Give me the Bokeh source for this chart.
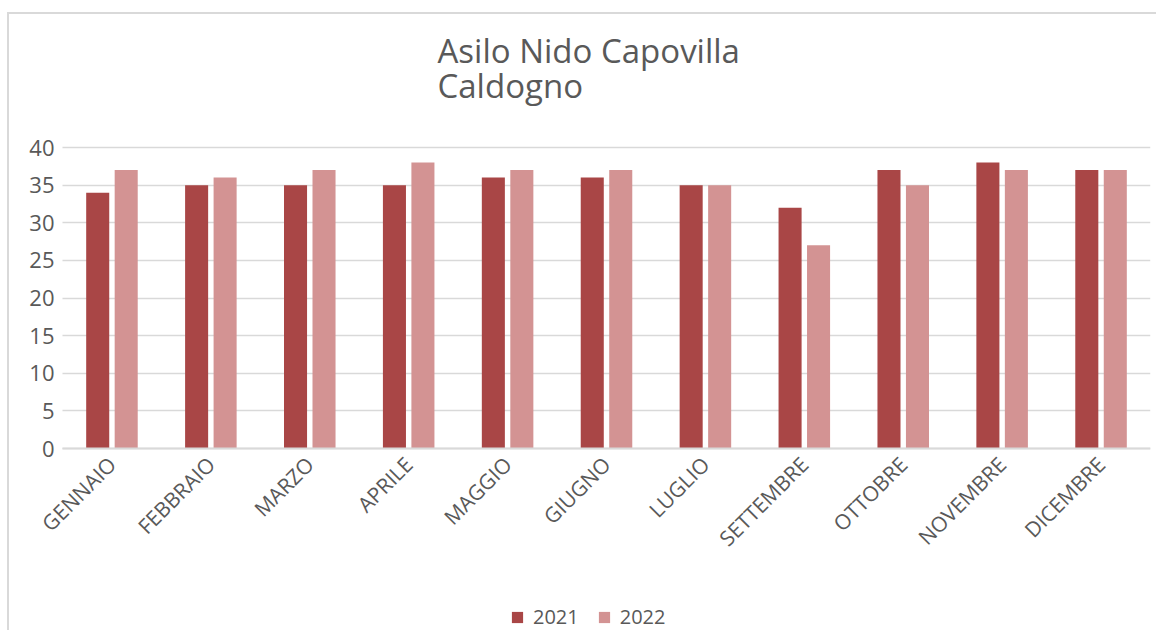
from bokeh.plotting import figure
from bokeh.models import ColumnDataSource, Range1d, FixedTicker, Legend, LegendItem, Grid
from bokeh.transform import dodge
from bokeh.embed import file_html
from bokeh.resources import INLINE
import math

months = ["GENNAIO", "FEBBRAIO", "MARZO", "APRILE", "MAGGIO", "GIUGNO",
          "LUGLIO", "SETTEMBRE", "OTTOBRE", "NOVEMBRE", "DICEMBRE"]
v2021 = [34, 35, 35, 35, 36, 36, 35, 32, 37, 38, 37]
v2022 = [37, 36, 37, 38, 37, 37, 35, 27, 35, 37, 37]
y_ticks = [0, 5, 10, 15, 20, 25, 30, 35, 40]
series_names = ["2021", "2022"]
title_text = "Asilo Nido Capovilla\nCaldogno"

C1 = "#A94646"
C2 = "#D39393"
TXT = "#595959"
FONT = "Open Sans"

idx = list(range(len(months)))

# layout geometry (pixels): plot area 62..1150 x, 147..448 y (0..40)
PX_PER_Y = 301 / 40
FRAME_TOP = 130
FRAME_H = 630 - FRAME_TOP
y_end = 40 + (147 - FRAME_TOP) / PX_PER_Y
y_start = y_end - FRAME_H / PX_PER_Y
PX_PER_X = 1088 / len(months)
FRAME_W = 1150
x_lo = -0.5
x_hi = len(months) - 0.5
x_start = x_lo - 62 / PX_PER_X

src = ColumnDataSource(dict(x=idx, a=v2021, b=v2022))

p = figure(x_range=Range1d(x_start, x_hi), y_range=Range1d(y_start, y_end),
           frame_width=FRAME_W, frame_height=FRAME_H,
           min_border_left=0, min_border_right=6,
           min_border_top=FRAME_TOP, min_border_bottom=0,
           output_backend="svg", toolbar_location=None)

r1 = p.vbar(x=dodge("x", -0.144), top="a", bottom=0, width=0.233,
            source=src, fill_color=C1, line_color=None)
r2 = p.vbar(x=dodge("x", 0.144), top="b", bottom=0, width=0.233,
            source=src, fill_color=C2, line_color=None)

p.title.text = title_text
p.title.align = "left"
p.title.offset = 437
p.title.text_font = FONT
p.title.text_font_size = "33px"
p.title.text_font_style = "normal"
p.title.text_color = TXT
p.title.text_line_height = 0.78
p.title.standoff = 45

p.xgrid.grid_line_color = None
p.ygrid.ticker = FixedTicker(ticks=y_ticks)
p.ygrid.grid_line_color = "#D9D9D9"
p.ygrid.grid_line_width = 1.5
if "cross_bounds" in Grid.properties():
    p.ygrid.cross_bounds = (x_lo, x_hi)
p.outline_line_color = None
p.border_fill_color = None
p.background_fill_color = None

p.yaxis.fixed_location = x_lo
p.yaxis.ticker = FixedTicker(ticks=y_ticks)
p.yaxis.axis_line_color = None
p.yaxis.major_tick_line_color = None
p.yaxis.major_tick_out = 0
p.yaxis.minor_tick_line_color = None
p.yaxis.major_label_text_font = FONT
p.yaxis.major_label_text_font_size = "22px"
p.yaxis.major_label_text_color = TXT
p.yaxis.major_label_standoff = 8
p.yaxis.bounds = (0, 40)

p.xaxis.fixed_location = 0
p.xaxis.bounds = (x_lo, x_hi)
p.xaxis.ticker = FixedTicker(ticks=idx)
p.xaxis.major_label_overrides = {i: m for i, m in zip(idx, months)}
p.xaxis.axis_line_color = "#D9D9D9"
p.xaxis.axis_line_width = 2
p.xaxis.major_tick_line_color = None
p.xaxis.major_tick_out = 0
p.xaxis.minor_tick_line_color = None
p.xaxis.major_label_orientation = math.pi / 4
p.xaxis.major_label_text_font = FONT
p.xaxis.major_label_text_font_size = "21px"
p.xaxis.major_label_text_color = TXT
p.xaxis.major_label_standoff = 12

legend = Legend(items=[LegendItem(label=series_names[0], renderers=[r1]),
                       LegendItem(label=series_names[1], renderers=[r2])],
                orientation="horizontal", location=(510, 0),
                label_text_font=FONT, label_text_font_size="20px",
                label_text_color=TXT, glyph_width=14, glyph_height=14,
                label_standoff=9, spacing=18, border_line_color=None,
                background_fill_alpha=0, margin=0, padding=0)
p.add_layout(legend, "center")

p.styles = {"background":
            "linear-gradient(#D9D9D9,#D9D9D9) 7px 12px / 100% 2px no-repeat, "
            "linear-gradient(#D9D9D9,#D9D9D9) 7px 12px / 2px 100% no-repeat"}

open("out.html", "w").write(file_html(p, INLINE))
